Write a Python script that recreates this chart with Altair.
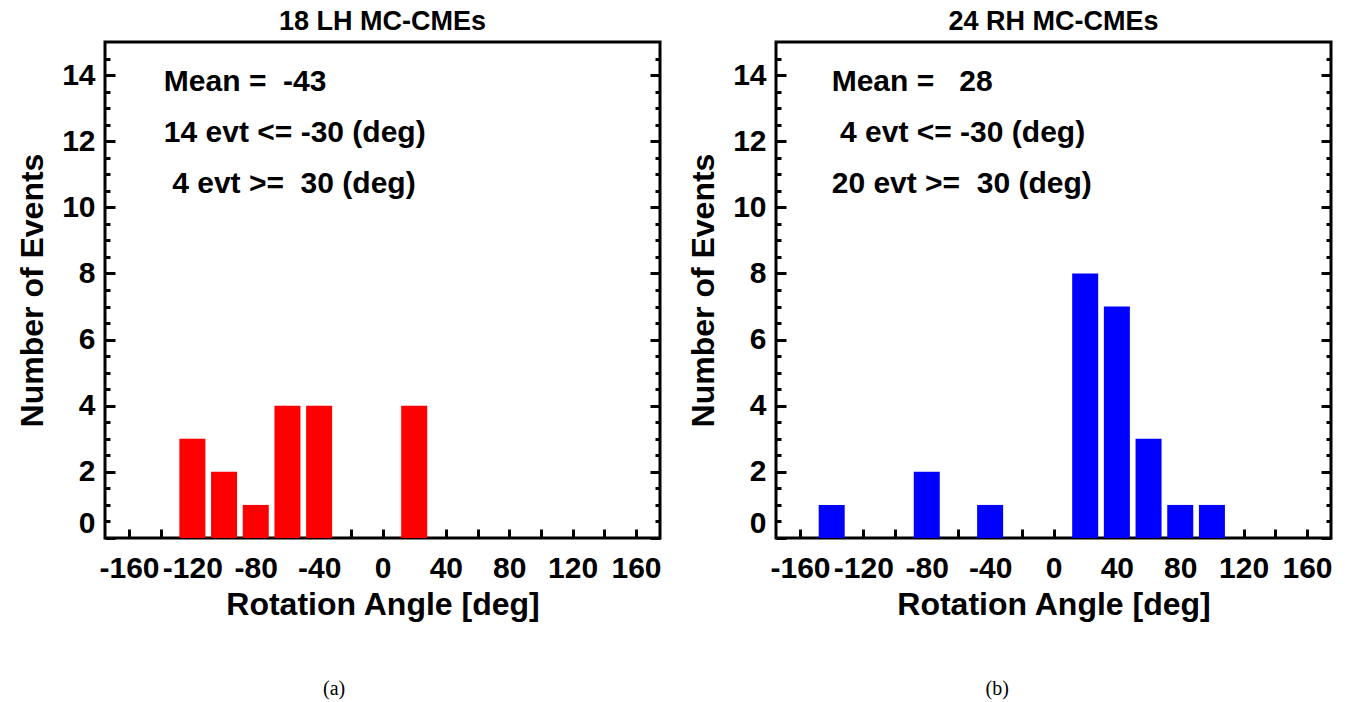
import altair as alt
import pandas as pd

# ---- data ----
left_angles = [-120, -100, -80, -60, -40, 20]
left_counts = [3, 2, 1, 4, 4, 4]
right_angles = [-140, -80, -40, 20, 40, 60, 80, 100]
right_counts = [1, 2, 1, 8, 7, 3, 1, 1]

panel_titles = ["18 LH MC-CMEs", "24 RH MC-CMEs"]
left_notes = ["Mean =  -43", "14 evt <= -30 (deg)", " 4 evt >=  30 (deg)"]
right_notes = ["Mean =   28", " 4 evt <= -30 (deg)", "20 evt >=  30 (deg)"]
note_y = [13.8, 12.25, 10.7]
note_x = [-138, -140]
captions = ["(a)", "(b)"]
caption_x = [-30.5, -35.5]
caption_y = -4.56
bar_colors = ["#ff0000", "#0000ff"]

x_ticks = list(range(-160, 161, 20))
y_major = [0, 2, 4, 6, 8, 10, 12, 14]
y_minor = [v / 2 for v in range(1, 30) if (v / 2) % 2 != 0]

FONT = "Liberation Sans"
W, H = 555, 496

xs = alt.Scale(domain=[-172, 172], nice=False, zero=False)
ys = alt.Scale(domain=[0, 15], nice=False, zero=False)

x_axis = alt.Axis(
    values=x_ticks,
    labelExpr="datum.value % 40 == 0 ? '' + datum.value : ''",
    offset=-9, tickSize=9, labelPadding=15,
    labelOverlap=False, labelFlush=False,
    title="Rotation Angle [deg]", titlePadding=6,
)


def y_axis(orient, values, size):
    return alt.Axis(orient=orient, values=values, offset=-size, tickSize=size,
                    title=None, labels=False)


def keep_spaces(s):
    # non-breaking spaces so that runs of spaces survive, with a zero-width
    # lead so that a leading space is not trimmed
    return "\u200b" + s.replace(" ", "\u00a0")


def panel(i, angles, counts, notes):
    df = pd.DataFrame({"angle": angles, "count": counts})
    left_axis = alt.Axis(orient="left", values=y_major, offset=-10, tickSize=10,
                         labelPadding=10, labelFlush=True,
                         labelExpr="'' + datum.value",
                         labelOverlap=False, title="Number of Events",
                         titlePadding=12)
    bars = alt.Chart(df).mark_bar(color=bar_colors[i], size=26).encode(
        x=alt.X("angle:Q", scale=xs, axis=x_axis),
        y=alt.Y("count:Q", scale=ys, axis=left_axis),
        y2=alt.datum(0),
    )
    ndf = pd.DataFrame({
        "angle": [note_x[i]] * len(notes),
        "v": note_y,
        "t": [keep_spaces(s) for s in notes],
    })
    text = alt.Chart(ndf).mark_text(
        align="left", baseline="middle", font=FONT, fontSize=30,
        fontWeight="bold", color="black",
    ).encode(
        x=alt.X("angle:Q", scale=xs, axis=x_axis),
        y=alt.Y("v:Q", scale=ys, axis=y_axis("right", y_major, 10)),
        text="t:N",
    )
    mdf = pd.DataFrame({"angle": [0] * len(y_minor), "v": y_minor})
    minor_l = alt.Chart(mdf).mark_point(opacity=0).encode(
        x=alt.X("angle:Q", scale=xs, axis=x_axis),
        y=alt.Y("v:Q", scale=ys, axis=y_axis("left", y_minor, 5)))
    minor_r = alt.Chart(mdf).mark_point(opacity=0).encode(
        x=alt.X("angle:Q", scale=xs, axis=x_axis),
        y=alt.Y("v:Q", scale=ys, axis=y_axis("right", y_minor, 5)))
    cdf = pd.DataFrame({"angle": [caption_x[i]], "v": [caption_y], "c": [captions[i]]})
    cap = alt.Chart(cdf).mark_text(
        font="Liberation Serif", fontSize=20, color="black",
        align="center", baseline="middle",
    ).encode(
        x=alt.X("angle:Q", scale=xs, axis=x_axis),
        y=alt.Y("v:Q", scale=ys, axis=None),
        text="c:N",
    )
    return alt.layer(bars, text, minor_l, minor_r, cap).resolve_axis(
        y="independent"
    ).properties(
        width=W, height=H,
        title=alt.Title(panel_titles[i], font=FONT, fontSize=27,
                        fontWeight="bold", color="black", offset=6,
                        frame="group", anchor="middle"),
    )


chart = alt.hconcat(
    panel(0, left_angles, left_counts, left_notes),
    panel(1, right_angles, right_counts, right_notes),
    spacing=23,
).properties(
    padding={"left": 15, "top": 6, "right": 5, "bottom": 0},
    background="white",
).configure_view(
    stroke="black", strokeWidth=3,
).configure_axis(
    domain=False, grid=False,
    tickColor="black", tickWidth=3,
    labelFont=FONT, labelFontSize=30, labelFontWeight="bold", labelColor="black",
    titleFont=FONT, titleFontSize=32, titleFontWeight="bold", titleColor="black",
)

chart.save("out.html", embed_options={"renderer": "svg", "actions": False})
